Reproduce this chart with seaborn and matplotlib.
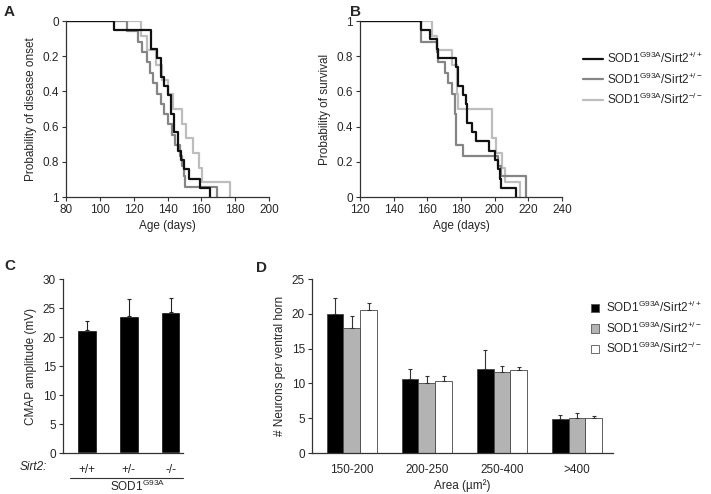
import matplotlib
matplotlib.use("Agg")
import matplotlib.pyplot as plt
from matplotlib.lines import Line2D
from matplotlib.patches import Patch
import seaborn as sns
import pandas as pd

# Panel A: cumulative probability of disease onset (step curves)
onset_age_wt = [80, 108.5, 130, 134, 136, 138, 140, 142, 144, 146, 148, 150, 153, 159, 165]
onset_p_wt = [0, 0.053, 0.158, 0.211, 0.316, 0.368, 0.421, 0.526, 0.632, 0.737, 0.789, 0.842, 0.895, 0.947, 1.0]
onset_age_het = [80, 116, 122.7, 125, 127.6, 129.5, 131.5, 133.5, 136, 138, 140.4, 142.4, 144.3, 147.3, 148.5, 149.5, 150.2, 169]
onset_p_het = [0, 0.059, 0.118, 0.176, 0.235, 0.294, 0.353, 0.412, 0.471, 0.529, 0.588, 0.647, 0.706, 0.765, 0.824, 0.882, 0.941, 1.0]
onset_age_ko = [80, 124.3, 128, 133, 137, 140, 143, 148.3, 151, 155, 158.7, 160.5, 176.8]
onset_p_ko = [0, 0.083, 0.167, 0.25, 0.333, 0.417, 0.5, 0.583, 0.667, 0.75, 0.833, 0.917, 1.0]

# Panel B: probability of survival
surv_age_wt = [120, 156, 161.5, 165.5, 166.5, 177, 178.3, 181.3, 182.8, 183.6, 186.8, 189.2, 196.7, 200, 202, 203, 203.6, 212.9]
surv_p_wt = [1, 0.947, 0.895, 0.842, 0.789, 0.737, 0.632, 0.579, 0.526, 0.421, 0.368, 0.316, 0.263, 0.211, 0.158, 0.105, 0.053, 0]
surv_age_het = [120, 156, 165.5, 166.5, 170.4, 172.4, 174.7, 176.3, 177.3, 181.3, 202, 204, 218.4]
surv_p_het = [1, 0.882, 0.824, 0.765, 0.706, 0.647, 0.588, 0.471, 0.294, 0.235, 0.176, 0.118, 0]
surv_age_ko = [120, 162.5, 165.6, 174.5, 177.5, 178.3, 198.5, 200.5, 204.5, 206, 214.8]
surv_p_ko = [1, 0.917, 0.833, 0.75, 0.583, 0.5, 0.333, 0.25, 0.167, 0.083, 0]

# Panel C: CMAP amplitude
sirt2_genotypes = ["+/+", "+/-", "-/-"]
cmap_mean = [21.2, 23.6, 24.3]
cmap_err = [1.6, 2.9, 2.4]

# Panel D: neuron counts by soma area
area_bins = ["150-200", "200-250", "250-400", ">400"]
neurons_wt = [19.9, 10.6, 12.1, 4.85]
neurons_het = [18.0, 10.1, 11.7, 5.0]
neurons_ko = [20.6, 10.3, 11.9, 5.05]
neurons_wt_err = [2.3, 1.4, 2.7, 0.65]
neurons_het_err = [1.7, 0.9, 0.8, 0.7]
neurons_ko_err = [1.0, 0.7, 0.4, 0.25]

genotype_labels = [
    "SOD1$^{G93A}$/Sirt2$^{+/+}$",
    "SOD1$^{G93A}$/Sirt2$^{+/-}$",
    "SOD1$^{G93A}$/Sirt2$^{-/-}$",
]
line_colors = ["#111111", "#858585", "#bdbdbd"]
bar_colors = ["#000000", "#b3b3b3", "#ffffff"]

sns.set_style("ticks")
plt.rcParams["font.family"] = ["Liberation Sans", "DejaVu Sans"]
plt.rcParams["mathtext.fontset"] = "custom"
plt.rcParams["mathtext.rm"] = "Liberation Sans"
plt.rcParams["mathtext.default"] = "regular"
plt.rcParams["font.size"] = 8.5
plt.rcParams["axes.edgecolor"] = "#333333"
plt.rcParams["axes.linewidth"] = 0.9

fig = plt.figure(figsize=(7.11, 4.94), dpi=100)
W, H = 711, 494


def px_axes(left, top, right, bottom):
    return fig.add_axes([left / W, 1 - bottom / H, (right - left) / W, (bottom - top) / H])


def style(ax):
    sns.despine(ax=ax)
    ax.tick_params(axis="both", length=3, width=0.8, pad=2, labelsize=8.5, color="#333333")


# ---- A
ax_a = px_axes(66, 21, 269, 197)
for ages, ps, col in [(onset_age_ko, onset_p_ko, line_colors[2]),
                      (onset_age_het, onset_p_het, line_colors[1]),
                      (onset_age_wt, onset_p_wt, line_colors[0])]:
    sns.lineplot(x=ages, y=ps, drawstyle="steps-post", color=col, lw=1.6,
                 estimator=None, sort=False, ax=ax_a)
ax_a.set_xlim(80, 200)
ax_a.set_ylim(1, 0)
ax_a.set_xticks(range(80, 201, 20))
ax_a.set_yticks([0, 0.2, 0.4, 0.6, 0.8, 1])
ax_a.set_yticklabels(["0", "0.2", "0.4", "0.6", "0.8", "1"])
ax_a.set_xlabel("Age (days)", fontsize=8.5, labelpad=3)
ax_a.set_ylabel("Probability of disease onset", fontsize=8.5, labelpad=4)
style(ax_a)

# ---- B
ax_b = px_axes(360, 21, 562, 197)
for ages, ps, col in [(surv_age_ko, surv_p_ko, line_colors[2]),
                      (surv_age_het, surv_p_het, line_colors[1]),
                      (surv_age_wt, surv_p_wt, line_colors[0])]:
    sns.lineplot(x=ages, y=ps, drawstyle="steps-post", color=col, lw=1.6,
                 estimator=None, sort=False, ax=ax_b)
ax_b.set_xlim(120, 240)
ax_b.set_ylim(0, 1)
ax_b.set_xticks(range(120, 241, 20))
ax_b.set_yticks([0, 0.2, 0.4, 0.6, 0.8, 1])
ax_b.set_yticklabels(["0", "0.2", "0.4", "0.6", "0.8", "1"])
ax_b.set_xlabel("Age (days)", fontsize=8.5, labelpad=3)
ax_b.set_ylabel("Probability of survival", fontsize=8.5, labelpad=4)
style(ax_b)

line_handles = [Line2D([], [], color=c, lw=1.6) for c in line_colors]
fig.legend(line_handles, genotype_labels, loc="center left",
           bbox_to_anchor=(572 / W, 1 - 79 / H), frameon=False, fontsize=8.5,
           handlelength=1.7, handletextpad=0.4, labelspacing=0.45)

# ---- C
ax_c = px_axes(63, 279, 183, 453)
df_c = pd.DataFrame({"sirt2": sirt2_genotypes, "amp": cmap_mean})
sns.barplot(data=df_c, x="sirt2", y="amp", color="black", width=0.46,
            errorbar=None, ax=ax_c, saturation=1)
ax_c.errorbar(range(len(cmap_mean)), cmap_mean, yerr=[[0] * 3, cmap_err],
              fmt="none", ecolor="#222222", elinewidth=0.8, capsize=1.5, capthick=0.8)
ax_c.set_xlim(-0.57, 2.29)
ax_c.set_ylim(0, 30)
ax_c.set_yticks(range(0, 31, 5))
ax_c.set_xlabel("")
ax_c.set_ylabel("CMAP amplitude (mV)", fontsize=8.5, labelpad=4)
style(ax_c)
ax_c.tick_params(axis="x", length=0, pad=8)
fig.text(20 / W, 1 - 467 / H, "Sirt2:", style="italic", fontsize=8.5, va="center")
fig.add_artist(Line2D([70 / W, 183 / W], [1 - 478 / H] * 2, color="#333333", lw=0.8))
fig.text(138 / W, 1 - 486 / H, "SOD1$^{G93A}$", fontsize=8.5, ha="center", va="center")

# ---- D
ax_d = px_axes(312, 279, 613, 453)
df_d = pd.DataFrame({
    "area": area_bins * 3,
    "count": neurons_wt + neurons_het + neurons_ko,
    "err": neurons_wt_err + neurons_het_err + neurons_ko_err,
    "genotype": [genotype_labels[0]] * 4 + [genotype_labels[1]] * 4 + [genotype_labels[2]] * 4,
})
sns.barplot(data=df_d, x="area", y="count", hue="genotype", palette=bar_colors,
            width=0.67, errorbar=None, edgecolor="#444444", linewidth=0.6,
            saturation=1, legend=False, ax=ax_d)
for cont, errs in zip(ax_d.containers, [neurons_wt_err, neurons_het_err, neurons_ko_err]):
    xs = [b.get_x() + b.get_width() / 2 for b in cont]
    hs = [b.get_height() for b in cont]
    ax_d.errorbar(xs, hs, yerr=[[0] * len(errs), errs], fmt="none", ecolor="#333333",
                  elinewidth=0.8, capsize=1.5, capthick=0.8)
ax_d.set_xlim(-0.53, 3.48)
ax_d.set_ylim(0, 25)
ax_d.set_yticks(range(0, 26, 5))
ax_d.set_xlabel("Area (\u00b5m\u00b2)", fontsize=8.5, labelpad=2)
ax_d.set_ylabel("# Neurons per ventral horn", fontsize=8.5, labelpad=4)
style(ax_d)
ax_d.tick_params(axis="x", length=0, pad=8)

bar_handles = [Patch(facecolor=c, edgecolor="#555555", lw=0.6) for c in bar_colors]
fig.legend(bar_handles, genotype_labels, loc="center left",
           bbox_to_anchor=(580 / W, 1 - 328 / H), frameon=False, fontsize=8.5,
           handlelength=0.7, handleheight=0.7, handletextpad=0.6, labelspacing=0.45)

# panel letters
for letter, x, y in [("A", 4, 12), ("B", 350, 12), ("C", 4, 266), ("D", 256, 268)]:
    fig.text(x / W, 1 - y / H, letter, fontsize=11, fontweight="bold", va="center")

fig.savefig("out.png", dpi=100, facecolor="white")
